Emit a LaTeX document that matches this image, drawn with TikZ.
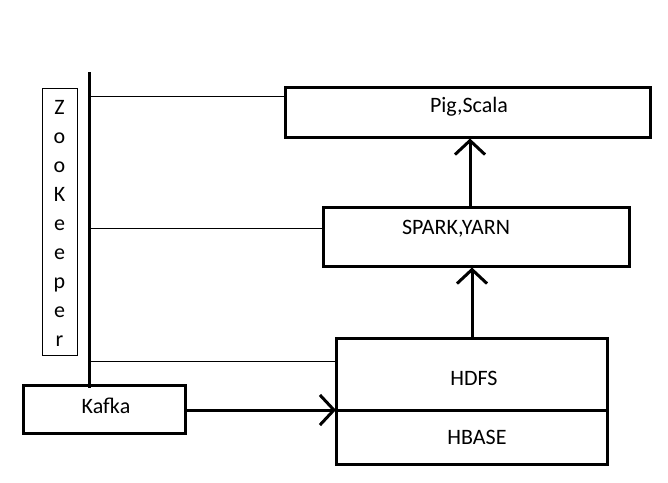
\documentclass[tikz,border=0pt]{standalone}
\usepackage{fontspec}
\setmainfont{Carlito}
\usetikzlibrary{arrows.meta}
\begin{document}
\begin{tikzpicture}[x=1pt,y=-1pt,
  box/.style={draw,line width=3pt,inner sep=0pt},
  thin/.style={line width=0.8pt},
  thick/.style={line width=3pt},
  arr/.style={thick,-{Straight Barb[length=14pt,width=30pt,line width=3pt]}},
  lbl/.style={font=\fontsize{22}{24}\selectfont,inner sep=0pt}]
\useasboundingbox[fill=white] (0,0) rectangle (668,482);
% boxes
\node[box,minimum width=365pt,minimum height=50pt] (pig) at (467.5,112) {};
\node[box,minimum width=306pt,minimum height=59pt] (spark) at (476,236.5) {};
\node[box,minimum width=271pt,minimum height=126pt] (hd) at (471.5,401) {};
\node[box,minimum width=162pt,minimum height=48pt] (kafka) at (104,409) {};
\node[draw,line width=1pt,minimum width=35pt,minimum height=267pt,inner sep=0pt] (zk) at (59.5,221.5) {};
% labels
\node[lbl] (tpig) at (469,107) {Pig,Scala};
\node[lbl] (tspark) at (456,229) {SPARK,YARN};
\node[lbl] (thdfs) at (474,378) {HDFS};
\node[lbl] (thbase) at (477,437) {HBASE};
\node[lbl] (tkafka) at (106,406) {Kafka};
\node[font=\fontsize{22}{29}\selectfont,align=center,inner sep=0pt] (tzk) at (59.5,223)
  {Z\\o\\o\\K\\e\\e\\p\\e\\r};
% zookeeper line
\coordinate (zt) at (89.5,72);
\coordinate (zb) at (89.5,388);
\draw[thick] (zt) -- (zb);
\coordinate (h1) at (91,96);
\coordinate (h2) at (88,228);
\coordinate (h3) at (91,361);
\draw[thin] (h1) -- (h1 -| pig.west);
\draw[thin] (h2) -- (h2 -| spark.west);
\draw[thin] (h3) -- (h3 -| hd.west);
% divider
\coordinate (d1) at (336,410);
\coordinate (d2) at (609,410);
\draw[thick] (d1) -- (d2);
% arrows
\draw[arr] (spark.north -| 470,0) -- (pig.south -| 470,0);
\draw[arr] (hd.north -| 472,0) -- (spark.south -| 472,0);
\draw[arr] (kafka.east |- d1) -- (d1);
\end{tikzpicture}
\end{document}
